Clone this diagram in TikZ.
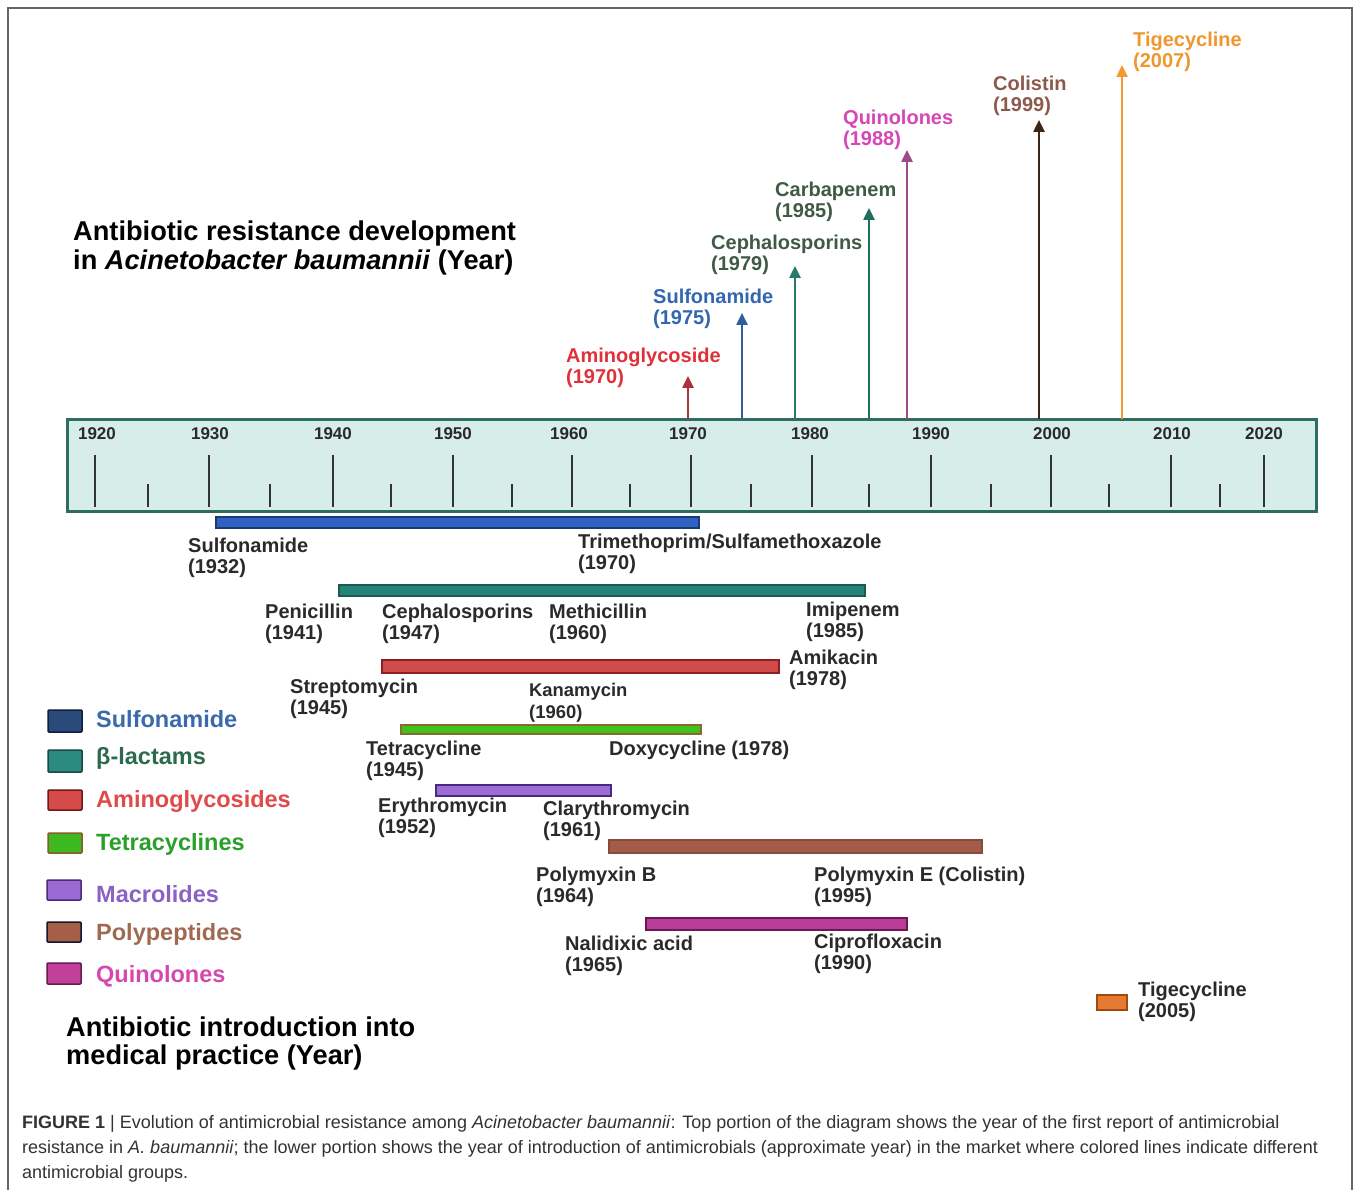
\documentclass[tikz,border=0pt]{standalone}
\usepackage{fontspec}
\setmainfont{Liberation Sans}
\usetikzlibrary{arrows.meta}
\definecolor{tlfill}{HTML}{D6EDEA}
\definecolor{tlline}{HTML}{2F6E5E}
\definecolor{tickc}{HTML}{333333}
\definecolor{labc}{HTML}{2A2A2A}
% arrow colours
\definecolor{arAmi}{HTML}{A8323E}
\definecolor{arSul}{HTML}{2E5E9E}
\definecolor{arCep}{HTML}{2A7A6A}
\definecolor{arCar}{HTML}{1F6E5E}
\definecolor{arQui}{HTML}{9B4B85}
\definecolor{arCol}{HTML}{3B2514}
\definecolor{arTig}{HTML}{F39A35}
% arrow label colours
\definecolor{txAmi}{HTML}{E0303A}
\definecolor{txSul}{HTML}{3366B0}
\definecolor{txCep}{HTML}{3F5A45}
\definecolor{txQui}{HTML}{D746B5}
\definecolor{txCol}{HTML}{8C5A4C}
\definecolor{txTig}{HTML}{F0962E}
% bar colours
\definecolor{bSul}{HTML}{2F62C4}\definecolor{bSulB}{HTML}{1A3A70}
\definecolor{bBet}{HTML}{248477}\definecolor{bBetB}{HTML}{1A5A50}
\definecolor{bAmi}{HTML}{D24B4B}\definecolor{bAmiB}{HTML}{8A2020}
\definecolor{bTet}{HTML}{3EC21C}\definecolor{bTetB}{HTML}{8A6A30}
\definecolor{bMac}{HTML}{9C6BD6}\definecolor{bMacB}{HTML}{4A2A80}
\definecolor{bPol}{HTML}{A35C4A}\definecolor{bPolB}{HTML}{8A4A3A}
\definecolor{bQui}{HTML}{B93C99}\definecolor{bQuiB}{HTML}{6A1A50}
\definecolor{bTig}{HTML}{E57B32}\definecolor{bTigB}{HTML}{A04A10}
% legend
\definecolor{lSul}{HTML}{2B4A7C}\definecolor{lSulB}{HTML}{10203A}
\definecolor{lBet}{HTML}{2A8A82}\definecolor{lBetB}{HTML}{1A4A48}
\definecolor{lAmi}{HTML}{D64A4A}\definecolor{lAmiB}{HTML}{701818}
\definecolor{lTet}{HTML}{3DB81F}\definecolor{lTetB}{HTML}{8A5A2A}
\definecolor{lMac}{HTML}{9C6AD4}\definecolor{lMacB}{HTML}{4A2A7A}
\definecolor{lPol}{HTML}{A55E48}\definecolor{lPolB}{HTML}{101830}
\definecolor{lQui}{HTML}{C0409A}\definecolor{lQuiB}{HTML}{6A1A50}
\definecolor{ltSul}{HTML}{3A6AAA}
\definecolor{ltBet}{HTML}{2E6A50}
\definecolor{ltAmi}{HTML}{E04A4A}
\definecolor{ltTet}{HTML}{2AA02A}
\definecolor{ltMac}{HTML}{8A62C4}
\definecolor{ltPol}{HTML}{A06A52}
\definecolor{ltQui}{HTML}{D448B0}
\definecolor{capc}{HTML}{333333}
\definecolor{framec}{HTML}{666666}

\tikzset{
  lab/.style={font=\bfseries\fontsize{20}{21}\selectfont, align=left, inner sep=0pt, anchor=west, text=labc},
  arlab/.style={lab},
  yearlab/.style={font=\bfseries\fontsize{17}{18}\selectfont, inner sep=0pt, text=labc},
  title/.style={font=\bfseries\fontsize{27.2}{29}\selectfont, align=left, inner sep=0pt, anchor=west, text=black},
  legtext/.style={font=\bfseries\fontsize{23.5}{24}\selectfont, inner sep=0pt, anchor=west},
  legbox/.style={line width=1.5pt, rounded corners=1pt},
  bar/.style={line width=1.2pt},
  majortick/.style={line width=2.5pt, draw=tickc},
  minortick/.style={line width=2.5pt, draw=tickc},
  resarrow/.style={line width=2.5pt, -{Triangle[length=12pt,width=11pt]}},
  capline/.style={font=\fontsize{18}{20}\selectfont, inner sep=0pt, anchor=west, text=capc},
}

\begin{document}
\begin{tikzpicture}[x=1pt,y=-1pt]
\useasboundingbox (0,0) rectangle (1358,1190);
\fill[white] (0,0) rectangle (1358,1190);
% frame
\draw[framec, line width=1.5pt] (8,1195) -- (8,8) -- (1352,8) -- (1352,1195);

% titles
\node[title] (ttop) at (73,248) {Antibiotic resistance development\\in \textit{Acinetobacter baumannii} (Year)};
\node[title, font=\bfseries\fontsize{27.2}{28}\selectfont] (tbot) at (66,1043) {Antibiotic introduction into\\medical practice (Year)};

% timeline
\node[draw=tlline, fill=tlfill, line width=3pt, minimum width=1249pt, minimum height=92pt, anchor=north west, inner sep=0pt] (tl) at (66,418) {};
\foreach \x in {95,209,333,453,572,691,812,931,1051,1171,1264} \draw[majortick] (\x,455) -- (\x,507);
\foreach \x in {148,270,391,512,630,751,869,991,1109,1220} \draw[minortick] (\x,484) -- (\x,507);
\foreach \x/\yr in {97/1920,210/1930,333/1940,453/1950,569/1960,688/1970,810/1980,931/1990,1052/2000,1172/2010,1264/2020}
  \node[yearlab] (yr\yr) at (\x,434) {\yr};

% resistance arrows
\coordinate (b70) at (688,419); \coordinate (t70) at (688,376);
\coordinate (b75) at (742,419); \coordinate (t75) at (742,313);
\coordinate (b79) at (795,419); \coordinate (t79) at (795,266);
\coordinate (b85) at (869,419); \coordinate (t85) at (869,208);
\coordinate (b88) at (907,419); \coordinate (t88) at (907,150);
\coordinate (b99) at (1039,419); \coordinate (t99) at (1039,120);
\coordinate (b07) at (1122,419); \coordinate (t07) at (1122,65);
\draw[resarrow, arAmi] (b70) -- (t70);
\draw[resarrow, arSul] (b75) -- (t75);
\draw[resarrow, arCep] (b79) -- (t79);
\draw[resarrow, arCar] (b85) -- (t85);
\draw[resarrow, arQui] (b88) -- (t88);
\draw[resarrow, arCol] (b99) -- (t99);
\draw[resarrow, arTig] (b07) -- (t07);

\node[arlab, text=txAmi] (rAmi) at (566,368) {Aminoglycoside\\(1970)};
\node[arlab, text=txSul] (rSul) at (653,309) {Sulfonamide\\(1975)};
\node[arlab, text=txCep] (rCep) at (711,254.5) {Cephalosporins\\(1979)};
\node[arlab, text=txCep] (rCar) at (775,201.5) {Carbapenem\\(1985)};
\node[arlab, text=txQui] (rQui) at (843,130) {Quinolones\\(1988)};
\node[arlab, text=txCol] (rCol) at (993,96) {Colistin\\(1999)};
\node[arlab, text=txTig] (rTig) at (1133,51.5) {Tigecycline\\(2007)};

% introduction bars
\draw[bar, fill=bSul, draw=bSulB] (216,517) rectangle (699,528);
\draw[bar, fill=bBet, draw=bBetB] (339,585) rectangle (865,596);
\draw[bar, fill=bAmi, draw=bAmiB] (382,660) rectangle (779,673);
\draw[bar, fill=bTet, draw=bTetB] (401,725) rectangle (701,734);
\draw[bar, fill=bMac, draw=bMacB] (436,785) rectangle (611,796);
\draw[bar, fill=bPol, draw=bPolB] (609,840) rectangle (982,853);
\draw[bar, fill=bQui, draw=bQuiB] (646,918) rectangle (907,930);
\draw[bar, fill=bTig, draw=bTigB] (1097,995) rectangle (1127,1010);

\node[lab] (l1) at (188,557.5) {Sulfonamide\\(1932)};
\node[lab] (l2) at (578,553.5) {Trimethoprim/Sulfamethoxazole\\(1970)};
\node[lab] (l3) at (265,624) {Penicillin\\(1941)};
\node[lab] (l4) at (382,624) {Cephalosporins\\(1947)};
\node[lab] (l5) at (549,624) {Methicillin\\(1960)};
\node[lab] (l6) at (806,621.5) {Imipenem\\(1985)};
\node[lab] (l7) at (789,670) {Amikacin\\(1978)};
\node[lab] (l8) at (290,699) {Streptomycin\\(1945)};
\node[lab, font=\bfseries\fontsize{18.4}{22}\selectfont] (l9) at (529,703) {Kanamycin\\(1960)};
\node[lab] (l10) at (366,761) {Tetracycline\\(1945)};
\node[lab] (l11) at (609,750) {Doxycycline (1978)};
\node[lab] (l12) at (378,818) {Erythromycin\\(1952)};
\node[lab] (l13) at (543,820.5) {Clarythromycin\\(1961)};
\node[lab] (l14) at (536,886.5) {Polymyxin B\\(1964)};
\node[lab] (l15) at (814,886.5) {Polymyxin E (Colistin)\\(1995)};
\node[lab] (l16) at (565,956) {Nalidixic acid\\(1965)};
\node[lab] (l17) at (814,954) {Ciprofloxacin\\(1990)};
\node[lab] (l18) at (1138,1001.5) {Tigecycline\\(2005)};

% legend
\draw[legbox, fill=lSul, draw=lSulB] (48,710) rectangle (82,732);
\draw[legbox, fill=lBet, draw=lBetB] (48,750) rectangle (82,772);
\draw[legbox, fill=lAmi, draw=lAmiB] (48,790) rectangle (82,810);
\draw[legbox, fill=lTet, draw=lTetB] (48,833) rectangle (82,853);
\draw[legbox, fill=lMac, draw=lMacB] (47,880) rectangle (81,900);
\draw[legbox, fill=lPol, draw=lPolB] (47,922) rectangle (81,942);
\draw[legbox, fill=lQui, draw=lQuiB] (47,963) rectangle (81,984);
\node[legtext, text=ltSul] (g1) at (96,719) {Sulfonamide};
\node[legtext, text=ltBet] (g2) at (96,758) {β-lactams};
\node[legtext, text=ltAmi] (g3) at (96,801) {Aminoglycosides};
\node[legtext, text=ltTet] (g4) at (96,844) {Tetracyclines};
\node[legtext, text=ltMac] (g5) at (96,894) {Macrolides};
\node[legtext, text=ltPol] (g6) at (96,934) {Polypeptides};
\node[legtext, text=ltQui] (g7) at (96,976) {Quinolones};

% caption
\node[capline] (c1) at (22,1124) {\textbf{FIGURE 1} | Evolution of antimicrobial resistance among \textit{Acinetobacter baumannii}: Top portion of the diagram shows the year of the first report of antimicrobial};
\node[capline] (c2) at (22,1149) {resistance in \textit{A. baumannii}; the lower portion shows the year of introduction of antimicrobials (approximate year) in the market where colored lines indicate different};
\node[capline] (c3) at (22,1174) {antimicrobial groups.};
\end{tikzpicture}
\end{document}
